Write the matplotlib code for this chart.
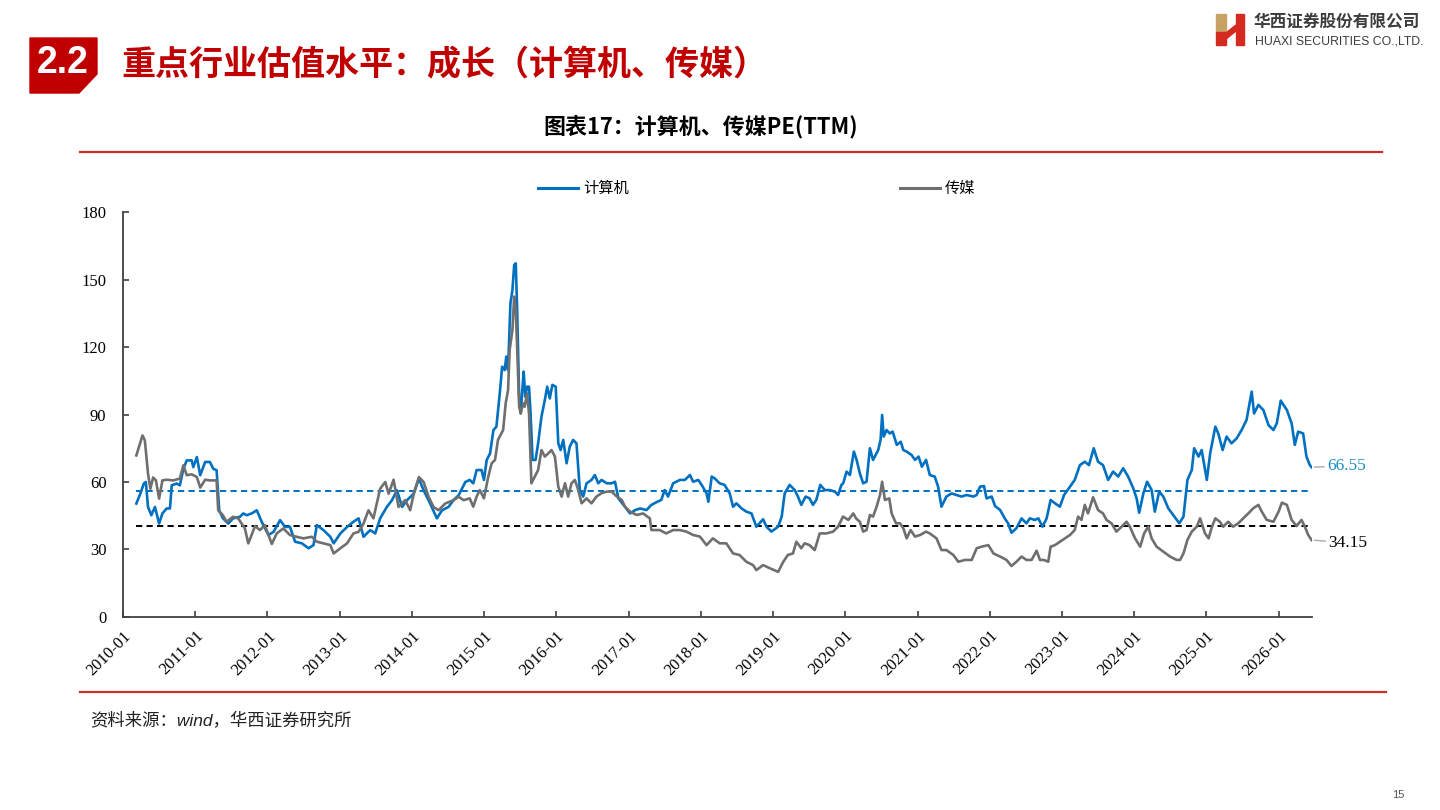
import pandas as pd
import matplotlib
matplotlib.use('Agg')
import matplotlib.pyplot as plt
from matplotlib.patches import Polygon, Rectangle
from matplotlib.lines import Line2D

plt.rcParams['font.family'] = ['Liberation Serif', 'Noto Sans CJK SC']

# 计算机 PE(TTM)
dates_computer = [
    '2010-03-09', '2010-03-26', '2010-04-16', '2010-04-26', '2010-05-07', '2010-05-24', '2010-06-11',
    '2010-07-02', '2010-07-19', '2010-08-09', '2010-08-26', '2010-09-04', '2010-09-29', '2010-10-15',
    '2010-11-02', '2010-11-19', '2010-12-14', '2010-12-22', '2011-01-09', '2011-01-26', '2011-02-20',
    '2011-03-16', '2011-04-02', '2011-04-19', '2011-05-02', '2011-05-21', '2011-06-17', '2011-07-11',
    '2011-08-15', '2011-09-01', '2011-09-18', '2011-10-13', '2011-11-08', '2011-12-03', '2012-01-06',
    '2012-02-01', '2012-03-05', '2012-03-30', '2012-04-24', '2012-05-20', '2012-06-23', '2012-07-27',
    '2012-08-21', '2012-09-07', '2012-10-10', '2012-11-14', '2012-12-01', '2013-01-04', '2013-02-07',
    '2013-03-11', '2013-04-06', '2013-05-01', '2013-06-04', '2013-06-29', '2013-07-24', '2013-08-27',
    '2013-09-22', '2013-10-17', '2013-11-12', '2013-12-07', '2014-01-10', '2014-02-05', '2014-03-01',
    '2014-04-03', '2014-05-07', '2014-06-02', '2014-07-05', '2014-07-30', '2014-08-25', '2014-09-28',
    '2014-10-20', '2014-11-07', '2014-11-24', '2014-12-19', '2014-12-31', '2015-01-14', '2015-01-31',
    '2015-02-17', '2015-03-04', '2015-03-21', '2015-04-02', '2015-04-15', '2015-04-23', '2015-05-02',
    '2015-05-14', '2015-05-24', '2015-06-02', '2015-06-10', '2015-06-17', '2015-06-27', '2015-07-05',
    '2015-07-13', '2015-07-20', '2015-07-28', '2015-08-06', '2015-08-16', '2015-08-23', '2015-09-03',
    '2015-09-18', '2015-10-01', '2015-10-18', '2015-11-04', '2015-11-16', '2015-11-29', '2015-12-12',
    '2015-12-29', '2016-01-11', '2016-01-23', '2016-02-05', '2016-02-22', '2016-03-09', '2016-03-26',
    '2016-04-12', '2016-04-29', '2016-05-16', '2016-06-02', '2016-06-27', '2016-07-14', '2016-07-31',
    '2016-08-17', '2016-09-12', '2016-10-07', '2016-10-24', '2016-11-10', '2016-12-13', '2017-01-08',
    '2017-02-03', '2017-02-28', '2017-04-01', '2017-04-26', '2017-05-26', '2017-06-15', '2017-07-02',
    '2017-07-19', '2017-08-14', '2017-09-17', '2017-10-12', '2017-11-07', '2017-11-23', '2017-12-19',
    '2018-01-05', '2018-01-30', '2018-02-08', '2018-02-25', '2018-03-12', '2018-04-06', '2018-05-01',
    '2018-05-27', '2018-06-13', '2018-06-30', '2018-07-25', '2018-08-19', '2018-09-14', '2018-10-09',
    '2018-11-12', '2018-11-29', '2018-12-24', '2019-01-27', '2019-02-14', '2019-03-01', '2019-03-26',
    '2019-04-21', '2019-05-07', '2019-05-24', '2019-06-15', '2019-07-05', '2019-07-22', '2019-08-08',
    '2019-08-28', '2019-09-20', '2019-10-15', '2019-11-10', '2019-11-26', '2019-12-13', '2019-12-22',
    '2020-01-08', '2020-01-25', '2020-02-14', '2020-02-28', '2020-03-15', '2020-04-01', '2020-04-18',
    '2020-05-05', '2020-05-21', '2020-06-16', '2020-06-28', '2020-07-06', '2020-07-14', '2020-07-28',
    '2020-08-14', '2020-08-28', '2020-09-18', '2020-10-08', '2020-10-21', '2020-11-07', '2020-12-02',
    '2020-12-19', '2021-01-06', '2021-01-23', '2021-02-13', '2021-03-04', '2021-03-29', '2021-04-15',
    '2021-05-02', '2021-05-27', '2021-06-22', '2021-07-17', '2021-08-11', '2021-09-06', '2021-10-10',
    '2021-10-27', '2021-11-13', '2021-12-03', '2021-12-16', '2022-01-11', '2022-01-28', '2022-02-23',
    '2022-03-18', '2022-04-04', '2022-04-21', '2022-05-16', '2022-06-11', '2022-07-06', '2022-07-23',
    '2022-08-17', '2022-09-04', '2022-09-25', '2022-10-16', '2022-11-05', '2022-11-27', '2022-12-22',
    '2023-01-12', '2023-02-11', '2023-03-07', '2023-04-02', '2023-04-27', '2023-05-18', '2023-06-11',
    '2023-07-03', '2023-07-28', '2023-08-23', '2023-09-17', '2023-10-13', '2023-11-07', '2023-12-02',
    '2023-12-28', '2024-01-14', '2024-01-27', '2024-02-17', '2024-03-07', '2024-03-30', '2024-04-15',
    '2024-05-07', '2024-05-28', '2024-06-22', '2024-07-17', '2024-08-17', '2024-09-07', '2024-09-27',
    '2024-10-19', '2024-10-31', '2024-11-22', '2024-12-08', '2025-01-03', '2025-01-20', '2025-02-15',
    '2025-03-02', '2025-03-24', '2025-04-13', '2025-05-08', '2025-06-03', '2025-06-28', '2025-07-23',
    '2025-08-18', '2025-08-30', '2025-09-21', '2025-10-16', '2025-11-11', '2025-12-06', '2025-12-23',
    '2026-01-12', '2026-02-12', '2026-03-08', '2026-03-24', '2026-04-10', '2026-05-05', '2026-05-22',
    '2026-06-08', '2026-06-17',
]
pe_computer = [
    50.4, 54.1, 59.3, 60.0, 48.9, 45.2, 48.9,
    41.5, 46.0, 48.2, 48.2, 58.5, 59.3, 58.5,
    65.9, 69.6, 69.6, 66.6, 71.1, 63.0, 68.9,
    68.9, 65.9, 65.2, 47.4, 43.8, 41.5, 43.8,
    44.5, 46.0, 45.2, 46.0, 47.4, 42.3, 36.4,
    37.8, 43.0, 40.0, 40.0, 33.4, 32.7, 30.5,
    31.9, 40.8, 38.6, 35.6, 32.7, 37.1, 40.0,
    42.3, 43.8, 35.6, 38.6, 37.1, 43.8, 48.9,
    51.9, 56.3, 48.9, 51.9, 54.8, 61.5, 56.3,
    50.4, 43.8, 47.4, 48.9, 51.9, 54.1, 60.0,
    60.9, 59.4, 65.3, 65.3, 60.9, 69.8, 72.7,
    83.1, 84.6, 99.4, 111.3, 109.8, 115.8, 109.8,
    139.5, 145.4, 156.6, 157.3, 136.5, 97.9, 90.5,
    100.9, 109.1, 97.9, 102.4, 102.4, 92.0, 69.8,
    69.8, 77.2, 89.1, 96.5, 102.4, 97.2, 103.2,
    102.4, 77.2, 74.2, 78.7, 68.3, 75.7, 78.7,
    77.2, 56.4, 53.5, 59.4, 60.9, 63.1, 59.4,
    60.9, 59.4, 59.4, 60.1, 52.7, 49.0, 46.0,
    47.5, 48.2, 47.5, 49.8, 51.2, 52.0, 56.4,
    53.5, 59.4, 60.9, 60.9, 63.1, 60.1, 60.9,
    58.7, 54.9, 51.2, 62.4, 61.6, 59.4, 58.7,
    54.9, 49.0, 50.5, 48.3, 46.8, 46.0, 40.1,
    43.4, 40.1, 37.9, 40.1, 44.6, 54.9, 58.7,
    56.4, 53.5, 49.8, 53.5, 52.7, 49.8, 52.0,
    58.7, 56.4, 56.4, 55.7, 54.2, 58.7, 59.4,
    64.6, 63.1, 73.5, 69.8, 63.9, 59.4, 60.1,
    75.0, 69.8, 74.2, 78.7, 89.8, 80.2, 83.1,
    81.6, 82.4, 76.5, 77.9, 74.2, 73.5, 72.0,
    69.8, 71.3, 66.8, 69.8, 63.1, 62.4, 57.9,
    49.0, 53.5, 54.9, 54.2, 53.5, 54.2, 53.5,
    54.2, 57.9, 58.2, 52.7, 53.5, 49.3, 47.5,
    43.8, 41.6, 37.4, 39.4, 43.8, 41.6, 43.8,
    43.1, 43.8, 40.1, 43.8, 52.0, 50.5, 49.0,
    54.2, 57.9, 60.9, 67.5, 69.0, 67.5, 75.0,
    69.0, 67.5, 60.9, 64.6, 62.4, 66.1, 62.4,
    57.2, 52.7, 46.3, 54.9, 60.1, 56.4, 46.8,
    55.7, 53.5, 48.3, 45.3, 41.6, 44.6, 60.9,
    65.3, 75.0, 71.3, 74.2, 60.9, 72.7, 84.6,
    81.6, 74.2, 80.2, 77.2, 79.4, 83.1, 87.6,
    100.2, 90.5, 94.3, 92.0, 85.3, 83.1, 86.1,
    96.2, 92.0, 86.1, 76.5, 82.4, 81.6, 71.3,
    67.5, 66.55,
]

# 传媒 PE(TTM)
dates_media = [
    '2010-03-09', '2010-04-09', '2010-04-21', '2010-05-07', '2010-05-19', '2010-06-02', '2010-06-16',
    '2010-07-02', '2010-07-19', '2010-08-09', '2010-09-12', '2010-10-15', '2010-11-02', '2010-11-19',
    '2010-12-14', '2011-01-09', '2011-01-26', '2011-02-20', '2011-03-16', '2011-04-19', '2011-04-27',
    '2011-05-21', '2011-06-08', '2011-07-11', '2011-08-06', '2011-09-09', '2011-09-26', '2011-10-13',
    '2011-10-30', '2011-11-24', '2011-12-19', '2012-01-23', '2012-02-17', '2012-03-21', '2012-04-24',
    '2012-05-28', '2012-07-01', '2012-08-12', '2012-09-07', '2012-10-10', '2012-11-14', '2012-12-01',
    '2013-01-04', '2013-02-07', '2013-03-11', '2013-04-06', '2013-05-01', '2013-05-26', '2013-06-20',
    '2013-07-24', '2013-08-19', '2013-09-05', '2013-09-30', '2013-10-25', '2013-11-28', '2013-12-23',
    '2014-01-10', '2014-02-05', '2014-03-01', '2014-03-26', '2014-04-20', '2014-05-15', '2014-06-18',
    '2014-07-30', '2014-08-25', '2014-09-19', '2014-10-20', '2014-11-07', '2014-11-24', '2014-12-10',
    '2014-12-31', '2015-01-22', '2015-02-08', '2015-02-25', '2015-03-12', '2015-03-29', '2015-04-07',
    '2015-04-20', '2015-05-02', '2015-05-10', '2015-05-24', '2015-06-02', '2015-06-10', '2015-06-18',
    '2015-06-27', '2015-07-05', '2015-07-17', '2015-07-25', '2015-08-06', '2015-08-16', '2015-08-28',
    '2015-09-14', '2015-10-01', '2015-10-18', '2015-11-04', '2015-11-21', '2015-12-08', '2015-12-25',
    '2016-01-11', '2016-01-28', '2016-02-14', '2016-03-01', '2016-03-18', '2016-04-04', '2016-04-21',
    '2016-05-08', '2016-06-02', '2016-06-27', '2016-07-22', '2016-08-17', '2016-09-12', '2016-10-07',
    '2016-11-02', '2016-11-27', '2016-12-13', '2017-01-08', '2017-02-11', '2017-03-15', '2017-04-18',
    '2017-04-26', '2017-06-07', '2017-07-10', '2017-08-14', '2017-09-17', '2017-10-20', '2017-11-23',
    '2017-12-27', '2018-01-30', '2018-03-03', '2018-04-06', '2018-05-10', '2018-06-13', '2018-07-16',
    '2018-08-19', '2018-09-22', '2018-10-09', '2018-11-12', '2018-12-16', '2019-01-27', '2019-02-22',
    '2019-03-17', '2019-04-12', '2019-04-29', '2019-05-24', '2019-06-10', '2019-07-05', '2019-07-31',
    '2019-08-25', '2019-09-28', '2019-11-01', '2019-11-26', '2019-12-21', '2020-01-17', '2020-02-11',
    '2020-02-25', '2020-03-15', '2020-04-01', '2020-04-18', '2020-05-05', '2020-05-21', '2020-06-08',
    '2020-06-25', '2020-07-06', '2020-07-20', '2020-08-11', '2020-08-23', '2020-09-14', '2020-10-04',
    '2020-10-21', '2020-11-07', '2020-11-27', '2020-12-19', '2021-01-14', '2021-02-13', '2021-03-04',
    '2021-04-07', '2021-05-02', '2021-05-27', '2021-07-01', '2021-07-26', '2021-08-29', '2021-10-02',
    '2021-10-27', '2021-11-21', '2021-12-25', '2022-01-20', '2022-02-23', '2022-03-27', '2022-04-21',
    '2022-05-16', '2022-06-11', '2022-07-06', '2022-08-01', '2022-08-26', '2022-09-12', '2022-10-02',
    '2022-10-24', '2022-11-05', '2022-11-27', '2022-12-22', '2023-01-17', '2023-02-11', '2023-03-07',
    '2023-03-24', '2023-04-10', '2023-04-27', '2023-05-13', '2023-06-08', '2023-07-03', '2023-07-28',
    '2023-08-15', '2023-09-09', '2023-10-04', '2023-10-30', '2023-11-24', '2023-12-11', '2024-01-06',
    '2024-02-01', '2024-02-21', '2024-03-13', '2024-03-30', '2024-04-24', '2024-05-28', '2024-07-01',
    '2024-08-04', '2024-08-21', '2024-09-07', '2024-09-27', '2024-10-19', '2024-11-13', '2024-11-30',
    '2024-12-25', '2025-01-12', '2025-01-29', '2025-02-15', '2025-03-10', '2025-03-27', '2025-04-21',
    '2025-05-16', '2025-06-11', '2025-07-06', '2025-08-01', '2025-08-26', '2025-09-21', '2025-10-08',
    '2025-11-02', '2025-12-06', '2026-01-01', '2026-01-18', '2026-02-12', '2026-03-08', '2026-04-02',
    '2026-04-27', '2026-05-14', '2026-05-31', '2026-06-17',
]
pe_media = [
    71.8, 80.7, 78.5, 63.7, 57.0, 62.0, 60.7,
    52.6, 60.7, 61.0, 60.7, 61.5, 67.4, 63.0,
    63.4, 62.2, 57.5, 61.0, 60.7, 60.7, 47.4,
    45.2, 42.3, 44.5, 43.8, 39.3, 32.7, 36.4,
    40.4, 38.6, 40.8, 32.4, 37.1, 39.3, 36.4,
    35.6, 34.9, 35.6, 33.4, 32.7, 31.9, 28.2,
    30.5, 32.7, 37.1, 37.8, 41.5, 47.4, 43.8,
    57.0, 60.0, 54.8, 61.0, 48.9, 51.9, 47.4,
    54.8, 62.2, 60.0, 53.4, 48.9, 47.4, 50.4,
    51.9, 53.4, 51.9, 52.7, 49.0, 53.5, 56.4,
    52.7, 62.4, 68.3, 69.8, 78.7, 81.6, 83.1,
    95.0, 100.9, 118.7, 127.6, 142.5, 136.5, 117.2,
    93.5, 90.5, 95.0, 93.5, 99.4, 90.5, 59.4,
    62.4, 65.3, 74.2, 71.3, 72.7, 74.2, 71.3,
    57.9, 53.5, 59.4, 53.5, 59.4, 60.9, 56.4,
    50.5, 52.7, 50.5, 53.5, 55.0, 55.7, 55.7,
    53.5, 52.0, 49.0, 46.8, 45.3, 46.0, 43.8,
    38.6, 38.6, 37.1, 38.6, 38.6, 37.9, 36.4,
    35.7, 31.9, 34.9, 32.7, 32.7, 28.2, 27.5,
    24.5, 23.0, 20.8, 23.0, 21.6, 20.0, 24.5,
    27.5, 28.2, 33.4, 30.5, 32.7, 31.9, 29.7,
    37.1, 37.1, 37.9, 40.1, 44.6, 43.1, 46.0,
    43.8, 42.3, 37.9, 38.6, 45.3, 44.6, 49.0,
    54.2, 60.1, 52.0, 52.7, 46.0, 41.6, 41.6,
    39.4, 34.9, 38.6, 35.7, 36.4, 37.9, 37.1,
    34.9, 29.7, 29.7, 27.5, 24.5, 25.3, 25.3,
    30.5, 31.2, 31.9, 28.2, 26.8, 25.3, 22.6,
    24.5, 26.8, 25.3, 25.3, 29.4, 25.3, 25.3,
    24.5, 31.2, 31.9, 33.4, 34.9, 36.4, 38.6,
    44.6, 43.1, 49.8, 46.0, 53.2, 47.5, 46.0,
    43.1, 41.6, 37.9, 40.1, 42.3, 40.1, 34.9,
    31.2, 37.1, 40.1, 34.9, 31.2, 29.0, 26.8,
    25.3, 25.3, 28.2, 34.2, 37.9, 40.1, 43.8,
    37.1, 34.9, 40.1, 43.8, 42.3, 40.1, 42.3,
    40.1, 41.6, 43.8, 46.0, 48.3, 49.8, 46.8,
    43.1, 42.3, 46.8, 50.8, 49.8, 43.1, 40.4,
    43.1, 40.1, 36.4, 34.15,
]

# 均值线
mean_computer = 56.1
mean_media = 40.2

series_names = ['计算机', '传媒']
year_ticks = list(range(2010, 2027))

W, H = 1440, 810
fig = plt.figure(figsize=(14.4, 8.1), dpi=100)


def fx(px):
    return px / W


def fy(py):
    return 1 - py / H


red = '#C00000'
blue = '#0070C0'
grey = '#6F6F6F'
cjk = ['Noto Sans CJK SC', 'DejaVu Sans']

# header
fig.add_artist(Polygon([(fx(30), fy(38)), (fx(97), fy(38)), (fx(97), fy(74)),
                        (fx(79), fy(93)), (fx(30), fy(93))],
                       closed=True, transform=fig.transFigure, color=red))
fig.text(fx(63), fy(63), '2.2', color='white', fontsize=27, fontweight='bold',
         family='Liberation Sans', ha='center', va='center')
fig.text(fx(121), fy(65), '重点行业估值水平：成长（计算机、传媒）', color=red, fontsize=24.5,
         fontweight='bold', family=cjk, ha='left', va='center')

# logo
fig.add_artist(Rectangle((fx(1216), fy(32)), fx(10), 18 / H, transform=fig.transFigure, color='#C8A165'))
fig.add_artist(Rectangle((fx(1216), fy(45)), fx(10), 13 / H, transform=fig.transFigure, color='#D42A20'))
fig.add_artist(Rectangle((fx(1236), fy(45)), fx(8), 31 / H, transform=fig.transFigure, color='#D42A20'))
fig.add_artist(Polygon([(fx(1226), fy(33)), (fx(1236), fy(25)), (fx(1236), fy(31)), (fx(1226), fy(39))],
                       closed=True, transform=fig.transFigure, color='#D42A20'))
fig.text(fx(1254), fy(22), '华西证券股份有限公司', fontsize=12, fontweight='bold', color='#3C3C3C',
         family=cjk, ha='left', va='center')
fig.text(fx(1255), fy(41), 'HUAXI SECURITIES CO.,LTD.', fontsize=8.8, color='#3C3C3C',
         family='Liberation Sans', ha='left', va='center')

# chart title
fig.text(fx(701), fy(128), '图表17：计算机、传媒PE(TTM)', fontsize=15.8, fontweight='bold',
         family=cjk, ha='center', va='center')
fig.add_artist(Line2D([fx(80), fx(1382)], [fy(152), fy(152)], color='#C9302C', lw=1.6,
                      transform=fig.transFigure))

# legend
fig.add_artist(Line2D([fx(538), fx(578)], [fy(188), fy(188)], color=blue, lw=2.2, transform=fig.transFigure))
fig.text(fx(583), fy(188), series_names[0], fontsize=11, family=cjk, ha='left', va='center')
fig.add_artist(Line2D([fx(900), fx(940)], [fy(188), fy(188)], color=grey, lw=2.2, transform=fig.transFigure))
fig.text(fx(945), fy(188), series_names[1], fontsize=11, family=cjk, ha='left', va='center')

# main axes
ax = fig.add_axes([fx(123.1), fy(616.8), fx(1311.6) - fx(123.1), (616.8 - 212.3) / H])
dc = pd.to_datetime(dates_computer)
dm = pd.to_datetime(dates_media)

ax.plot([dc[0], dc[-1]], [mean_computer] * 2, color=blue, lw=1.4, dashes=(3.2, 2.2), zorder=1)
ax.plot([dm[0], dm[-1]], [mean_media] * 2, color='black', lw=1.4, dashes=(3.2, 2.2), zorder=1)
ax.plot(dc, pe_computer, color=blue, lw=1.9, zorder=2)
ax.plot(dm, pe_media, color=grey, lw=1.9, zorder=3)

ax.annotate(f'{pe_computer[-1]:.2f}', xy=(dc[-1], pe_computer[-1]), xytext=(11, 1),
            textcoords='offset points', ha='left', va='center', color='#1F8DC6', fontsize=12.5,
            arrowprops=dict(arrowstyle='-', color='#AAAAAA', lw=1, shrinkA=0, shrinkB=2),
            annotation_clip=False)
ax.annotate(f'{pe_media[-1]:.2f}', xy=(dm[-1], pe_media[-1]), xytext=(12, -2),
            textcoords='offset points', ha='left', va='center', color='black', fontsize=12.5,
            arrowprops=dict(arrowstyle='-', color='#AAAAAA', lw=1, shrinkA=0, shrinkB=2),
            annotation_clip=False)

ax.set_ylim(0, 180)
ax.set_yticks(range(0, 181, 30))
ax.set_xlim(pd.Timestamp('2010-01-01'), dc[-1])
ax.set_xticks([pd.Timestamp(f'{y}-01-01') for y in year_ticks])
ax.set_xticklabels([f'{y}-01' for y in year_ticks], rotation=45, ha='right', va='top',
                   rotation_mode='anchor')
for s in ['top', 'right']:
    ax.spines[s].set_visible(False)
for s in ['left', 'bottom']:
    ax.spines[s].set_color('#404040')
    ax.spines[s].set_linewidth(1.3)
ax.tick_params(direction='in', length=4, width=1.2, color='#404040', labelsize=12)
ax.tick_params(axis='y', pad=12)
ax.tick_params(axis='x', pad=8)

# footer
fig.add_artist(Line2D([fx(80), fx(1386)], [fy(692), fy(692)], color='#C9302C', lw=1.6,
                      transform=fig.transFigure))
fig.text(fx(90), fy(721), '资料来源：wind，华西证券研究所', fontsize=12.5, style='italic',
         family=['Liberation Sans', 'Noto Sans CJK SC'], ha='left', va='center', color='#222222')
fig.text(fx(1398), fy(795), '15', fontsize=8, family='Liberation Sans', ha='center', va='center',
         color='#555555')

fig.savefig('out.png', dpi=100)
